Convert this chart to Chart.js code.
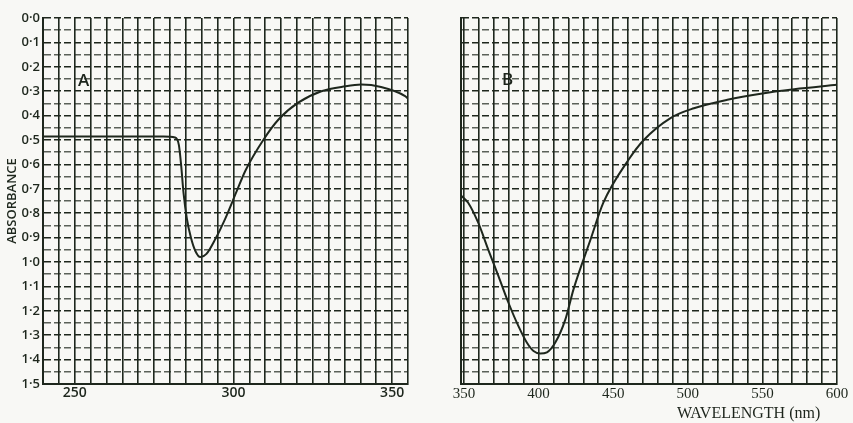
<!DOCTYPE html>
<html>
<head>
<meta charset="utf-8">
<script src="https://cdn.jsdelivr.net/npm/chart.js@4.4.1/dist/chart.umd.min.js"></script>
<style>
  body { margin: 0; background: #f8f8f5; width: 853px; height: 423px; overflow: hidden; position: relative; color: #1c241b; }
  .tag { position: absolute; font-family: "Open Sans", sans-serif; font-size: 17px; font-weight: 600; line-height: 1; }
  #xtitle { position: absolute; left: 677px; top: 405px; font-family: "Liberation Serif", serif; font-size: 16px; line-height: 1; white-space: nowrap; }
</style>
</head>
<body>
<canvas id="chartA" width="420" height="423" style="position:absolute;left:0;top:0"></canvas>
<canvas id="chartB" width="413" height="423" style="position:absolute;left:440px;top:0"></canvas>
<div class="tag" style="left:78px;top:71px">A</div>
<div class="tag" style="left:502px;top:70px">B</div>
<div id="xtitle">WAVELENGTH (nm)</div>
<script>
// panel A (wavelength nm / absorbance)
const waveA = [240, 250, 260, 270, 278, 281.6, 282.8, 283.5, 284.3, 285.3, 286.6, 288.0, 289.6, 291.5, 294.3, 297.5, 300.9, 303.8, 309.4, 314.2, 320.4, 327.7, 335.2, 340.3, 346.5, 354.1, 355];
const absA  = [0.486, 0.486, 0.486, 0.486, 0.486, 0.49, 0.52, 0.60, 0.72, 0.82, 0.90, 0.955, 0.98, 0.967, 0.906, 0.82, 0.714, 0.625, 0.50, 0.416, 0.347, 0.30, 0.28, 0.273, 0.283, 0.32, 0.33];

// panel B
const waveB = [348, 352.9, 359.6, 366.3, 373.1, 379.8, 386.5, 392.1, 396.6, 401.1, 405.6, 411.2, 417.9, 423.5, 434.7, 443.4, 460.4, 470.5, 488.4, 504.1, 526.5, 548.9, 571.3, 600];
const absB  = [0.727, 0.758, 0.84, 0.95, 1.058, 1.167, 1.263, 1.33, 1.365, 1.375, 1.37, 1.33, 1.236, 1.11, 0.91, 0.757, 0.58, 0.50, 0.41, 0.37, 0.335, 0.31, 0.292, 0.274];

const yTickLabels = ['0·0', '0·1', '0·2', '0·3', '0·4', '0·5', '0·6', '0·7', '0·8', '0·9', '1·0', '1·1', '1·2', '1·3', '1·4', '1·5'];
const xTickLabelsA = [250, 300, 350];
const xTickLabelsB = [350, 400, 450, 500, 550, 600];

const ink = '#1e271d';
const inkLight = 'rgba(30,39,29,0.72)';

function toPoints(xs, ys) {
    return xs.map((x, i) => ({ x: x, y: ys[i] }));
}

// 0.1 lines heavier than the 0.05 ones
function isMajor(v) {
    return Math.round(v * 100) % 10 === 0;
}

function yAxis(showLabels) {
    return {
        min: 0,
        max: 1.5,
        reverse: true,
        ticks: {
            stepSize: 0.05,
            autoSkip: false,
            display: showLabels,
            padding: 3,
            color: ink,
            font: { family: 'Open Sans', size: 13, weight: 600 },
            callback: v => isMajor(v) ? yTickLabels[Math.round(v * 10)] : ''
        },
        grid: {
            drawTicks: false,
            lineWidth: 1.5,
            color: ctx => isMajor(ctx.tick.value) ? ink : inkLight
        },
        border: { color: ink, width: 2, dash: [7, 3] },
        title: {
            display: showLabels,
            text: 'ABSORBANCE',
            color: ink,
            font: { family: 'Open Sans', size: 13, weight: 600 },
            padding: { top: 4, bottom: 0 }
        },
        afterFit: s => { s.width = showLabels ? 43 : 0; }
    };
}

function dataset(xs, ys) {
    return {
        data: toPoints(xs, ys),
        borderColor: ink,
        borderWidth: 2,
        pointRadius: 0,
        fill: false,
        cubicInterpolationMode: 'monotone'
    };
}

const common = {
    responsive: false,
    animation: false,
    devicePixelRatio: 1,
    plugins: { legend: { display: false }, tooltip: { enabled: false } }
};

new Chart(document.getElementById('chartA'), {
    type: 'line',
    data: { datasets: [dataset(waveA, absA)] },
    options: {
        ...common,
        layout: { padding: { top: 18, right: 12, left: 0, bottom: 0 } },
        scales: {
            x: {
                type: 'linear',
                min: 240,
                max: 355,
                ticks: {
                    stepSize: 5,
                    autoSkip: false,
                    maxRotation: 0,
                    padding: 1,
                    color: ink,
                    font: { family: 'Open Sans', size: 14, weight: 600 },
                    callback: v => xTickLabelsA.includes(v) ? String(v) : ''
                },
                grid: { color: ink, lineWidth: 1.6, drawTicks: false },
                border: { color: ink, width: 2 },
                afterFit: s => { s.height = 39; }
            },
            y: yAxis(true)
        }
    }
});

new Chart(document.getElementById('chartB'), {
    type: 'line',
    data: { datasets: [dataset(waveB, absB)] },
    options: {
        ...common,
        layout: { padding: { top: 18, right: 16, left: 21, bottom: 0 } },
        scales: {
            x: {
                type: 'linear',
                min: 348,
                max: 600,
                afterBuildTicks: s => {
                    const t = [];
                    for (let v = 350; v <= 600; v += 10) t.push({ value: v });
                    s.ticks = t;
                },
                ticks: {
                    autoSkip: false,
                    maxRotation: 0,
                    padding: 1,
                    color: ink,
                    font: { family: 'Liberation Serif', size: 15 },
                    callback: v => xTickLabelsB.includes(v) ? String(v) : ''
                },
                grid: { color: ink, lineWidth: 1.6, drawTicks: false },
                border: { color: ink, width: 2 },
                afterFit: s => { s.height = 39; }
            },
            y: yAxis(false)
        }
    }
});
</script>
</body>
</html>
